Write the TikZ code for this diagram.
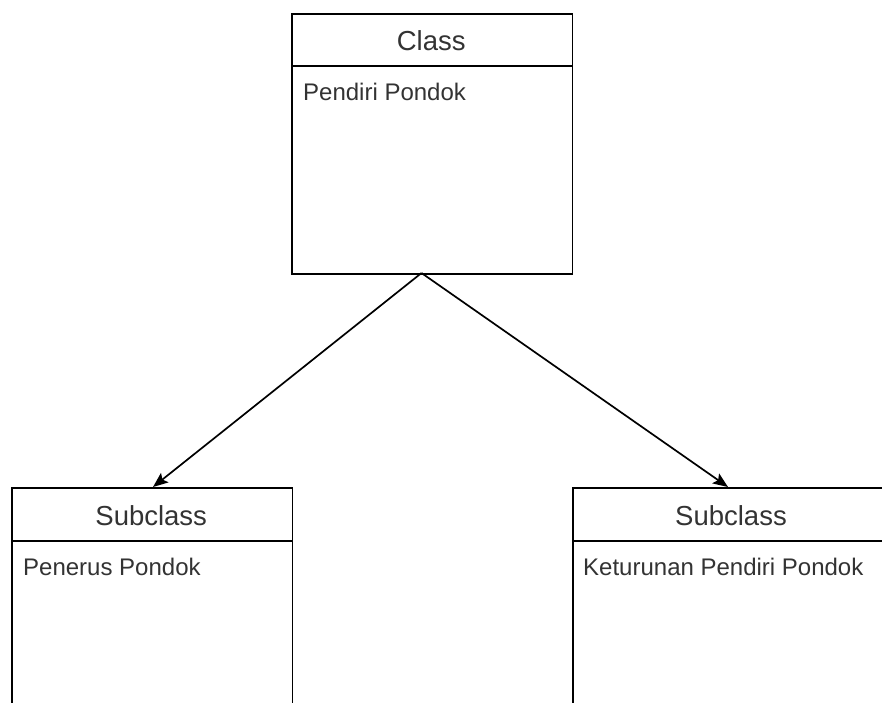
\documentclass[tikz,border=0pt]{standalone}
\usepackage{fontspec}
\setmainfont{Liberation Sans}
\usetikzlibrary{arrows.meta}
\definecolor{ink}{HTML}{333333}
\tikzset{
  boxpart/.style={draw=black, line width=1.8pt, fill=white, rectangle, inner sep=0pt, anchor=north west},
  headtext/.style={text=ink, font=\fontsize{27.5}{32}\selectfont, anchor=base, inner sep=0pt},
  bodytext/.style={text=ink, font=\fontsize{24}{28}\selectfont, anchor=base west, inner sep=0pt},
  link/.style={draw=black, line width=1.7pt, -{Stealth[length=15pt, width=12pt, inset=3pt]}}
}
\begin{document}
\begin{tikzpicture}[x=1pt, y=-1pt]
  \useasboundingbox (0,0) rectangle (882,702);
  \clip (0,0) rectangle (882,702);
  \fill[white] (0,0) rectangle (882,702);

  % Class: Pendiri Pondok
  \node[boxpart, minimum width=280.5pt, minimum height=52pt] (chead) at (291,13) {};
  \node[boxpart, minimum width=280.5pt, minimum height=208pt] (cbody) at (291,65) {};
  \node[headtext] (ctitle) at (431.2,50) {Class};
  \node[bodytext] (cattr) at (303,100) {Pendiri Pondok};

  % Subclass: Penerus Pondok
  \node[boxpart, minimum width=280.5pt, minimum height=53pt] (lhead) at (11,487) {};
  \node[boxpart, minimum width=280.5pt, minimum height=230pt] (lbody) at (11,540) {};
  \node[headtext] (ltitle) at (151.2,525) {Subclass};
  \node[bodytext] (lattr) at (23,575) {Penerus Pondok};

  % Subclass: Keturunan Pendiri Pondok
  \node[boxpart, minimum width=318pt, minimum height=53pt] (rhead) at (572,487) {};
  \node[boxpart, minimum width=318pt, minimum height=230pt] (rbody) at (572,540) {};
  \node[headtext] (rtitle) at (731,525) {Subclass};
  \node[bodytext] (rattr) at (583,575) {Keturunan Pendiri Pondok};

  % Inheritance connectors
  \coordinate (apex) at (421.5,273);
  \coordinate (lend) at (153,487);
  \coordinate (rend) at (728,487);
  \draw[link] (apex) -- (lend);
  \draw[link] (apex) -- (rend);
\end{tikzpicture}
\end{document}
